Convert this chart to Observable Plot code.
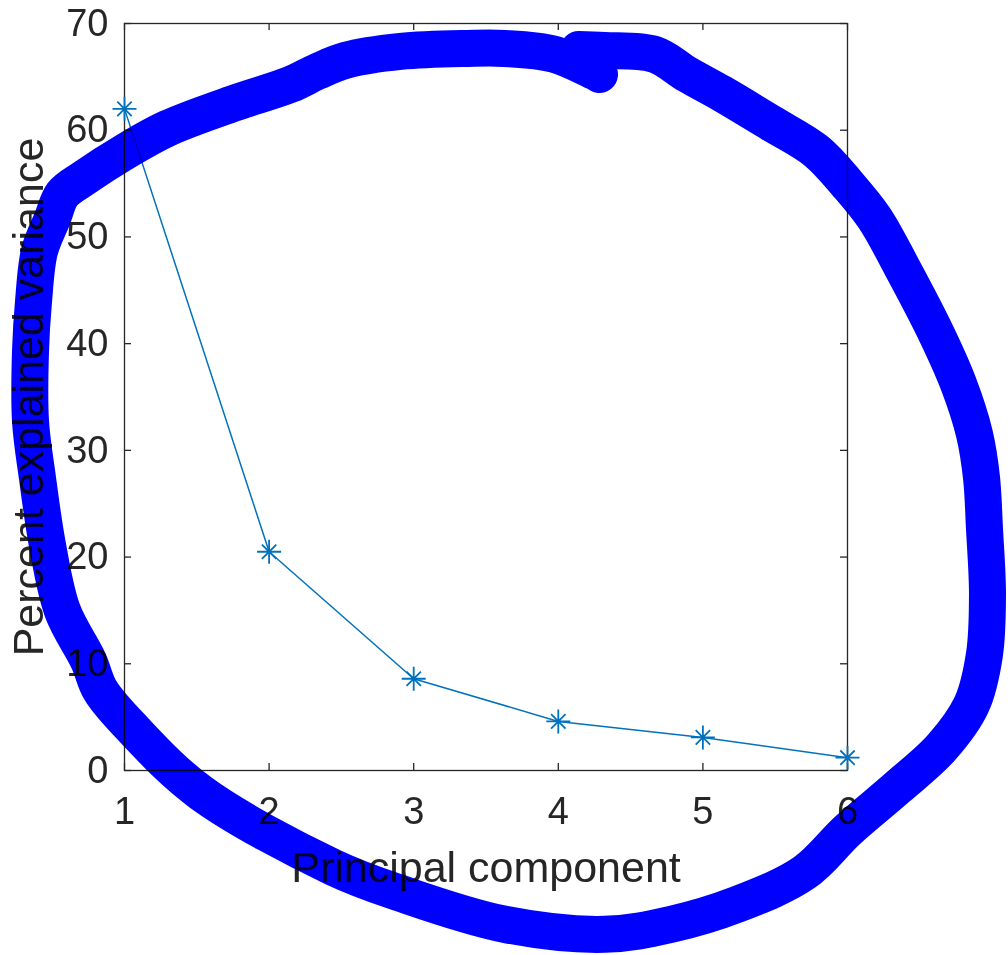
<!DOCTYPE html>
<html><head><meta charset="utf-8">
<script src="https://cdn.jsdelivr.net/npm/d3@7"></script>
<script src="https://cdn.jsdelivr.net/npm/@observablehq/plot@0.6"></script>
<style>body{margin:0;background:#fff}</style>
</head><body><div id="chart"></div>
<script>
const components = [1, 2, 3, 4, 5, 6];
const explained = [62.0, 20.5, 8.6, 4.6, 3.1, 1.2];
const xTicks = [1, 2, 3, 4, 5, 6];
const yTicks = [0, 10, 20, 30, 40, 50, 60, 70];
const xLabel = "Principal component";
const yLabel = "Percent explained variance";
// hand-drawn annotation loop, estimated in data units
const loopX = [4.140, 4.320, 4.665, 4.893, 5.129, 5.474, 5.786, 6.000, 6.187, 6.380, 6.616, 6.768, 6.878, 6.927, 6.947, 6.968, 6.947, 6.858, 6.650, 6.346, 6.000, 5.703, 5.239, 4.783, 4.320, 3.628, 2.909, 2.445, 1.526, 1.062, 0.834, 0.751, 0.571, 0.467, 0.398, 0.350, 0.350, 0.371, 0.412, 0.502, 0.571, 0.716, 1.007, 1.297, 1.754, 2.148, 2.335, 2.528, 2.909, 3.372, 3.628, 3.974, 4.285];
const loopY = [67.56, 67.47, 67.10, 65.22, 63.45, 60.64, 58.02, 54.93, 51.75, 47.07, 40.89, 36.22, 31.54, 27.42, 22.74, 16.47, 10.86, 6.18, 2.15, -1.59, -5.61, -9.55, -12.54, -14.41, -15.35, -14.41, -11.51, -9.08, -2.06, 3.84, 7.49, 10.29, 14.97, 21.15, 27.42, 32.75, 39.30, 43.98, 48.66, 51.75, 54.00, 55.49, 58.02, 60.17, 62.51, 64.29, 65.51, 66.54, 67.38, 67.66, 67.66, 67.10, 65.22];

const data = components.map((c, i) => ({pc: c, pct: explained[i]}));
const loop = loopX.map((x, i) => ({x, y: loopY[i]}));

const asterisk = {
  draw(ctx, size) {
    const r = Math.sqrt(size / Math.PI);
    const d = r * 0.6;
    ctx.moveTo(-r, 0); ctx.lineTo(r, 0);
    ctx.moveTo(0, -r); ctx.lineTo(0, r);
    ctx.moveTo(-d, -d); ctx.lineTo(d, d);
    ctx.moveTo(-d, d); ctx.lineTo(d, -d);
  }
};

const ink = "#262626";
const chart = Plot.plot({
  width: 1008,
  height: 955,
  marginLeft: 124,
  marginRight: 161,
  marginTop: 23,
  marginBottom: 185,
  style: {fontFamily: "'Liberation Sans', Arial, sans-serif", color: ink, background: "#fff"},
  x: {domain: [1, 6]},
  y: {domain: [0, 70]},
  marks: [
    Plot.frame({stroke: ink, strokeWidth: 1.3}),
    Plot.tickX(xTicks, {x: d => d, stroke: ink, strokeWidth: 1.3, insetTop: 740}),
    Plot.tickX(xTicks, {x: d => d, stroke: ink, strokeWidth: 1.3, insetBottom: 740}),
    Plot.tickY(yTicks, {y: d => d, stroke: ink, strokeWidth: 1.3, insetRight: 716}),
    Plot.tickY(yTicks, {y: d => d, stroke: ink, strokeWidth: 1.3, insetLeft: 716}),
    Plot.axisX(xTicks, {tickSize: 0, tickPadding: 27, fontSize: 38, label: null, tickFormat: d => String(d)}),
    Plot.axisY(yTicks, {tickSize: 0, tickPadding: 16, fontSize: 38, label: null, tickFormat: d => String(d)}),
    Plot.text([xLabel], {text: d => d, frameAnchor: "bottom", textAnchor: "middle", lineAnchor: "middle", dy: 98, fontSize: 43, fill: ink}),
    Plot.text([yLabel], {text: d => d, frameAnchor: "left", textAnchor: "middle", lineAnchor: "middle", rotate: -90, dx: -95, fontSize: 43, fill: ink}),
    Plot.line(data, {x: "pc", y: "pct", stroke: "#0072BD", strokeWidth: 1.5}),
    Plot.dot(data, {x: "pc", y: "pct", symbol: asterisk, r: 12, stroke: "#0072BD", fill: "none", strokeWidth: 1.8}),
    Plot.line(loop, {x: "x", y: "y", stroke: "#0000ff", strokeWidth: 37, curve: "catmull-rom", strokeLinecap: "round", strokeLinejoin: "round", mixBlendMode: "multiply"})
  ]
});
document.getElementById("chart").appendChild(chart);
</script>
</body></html>
